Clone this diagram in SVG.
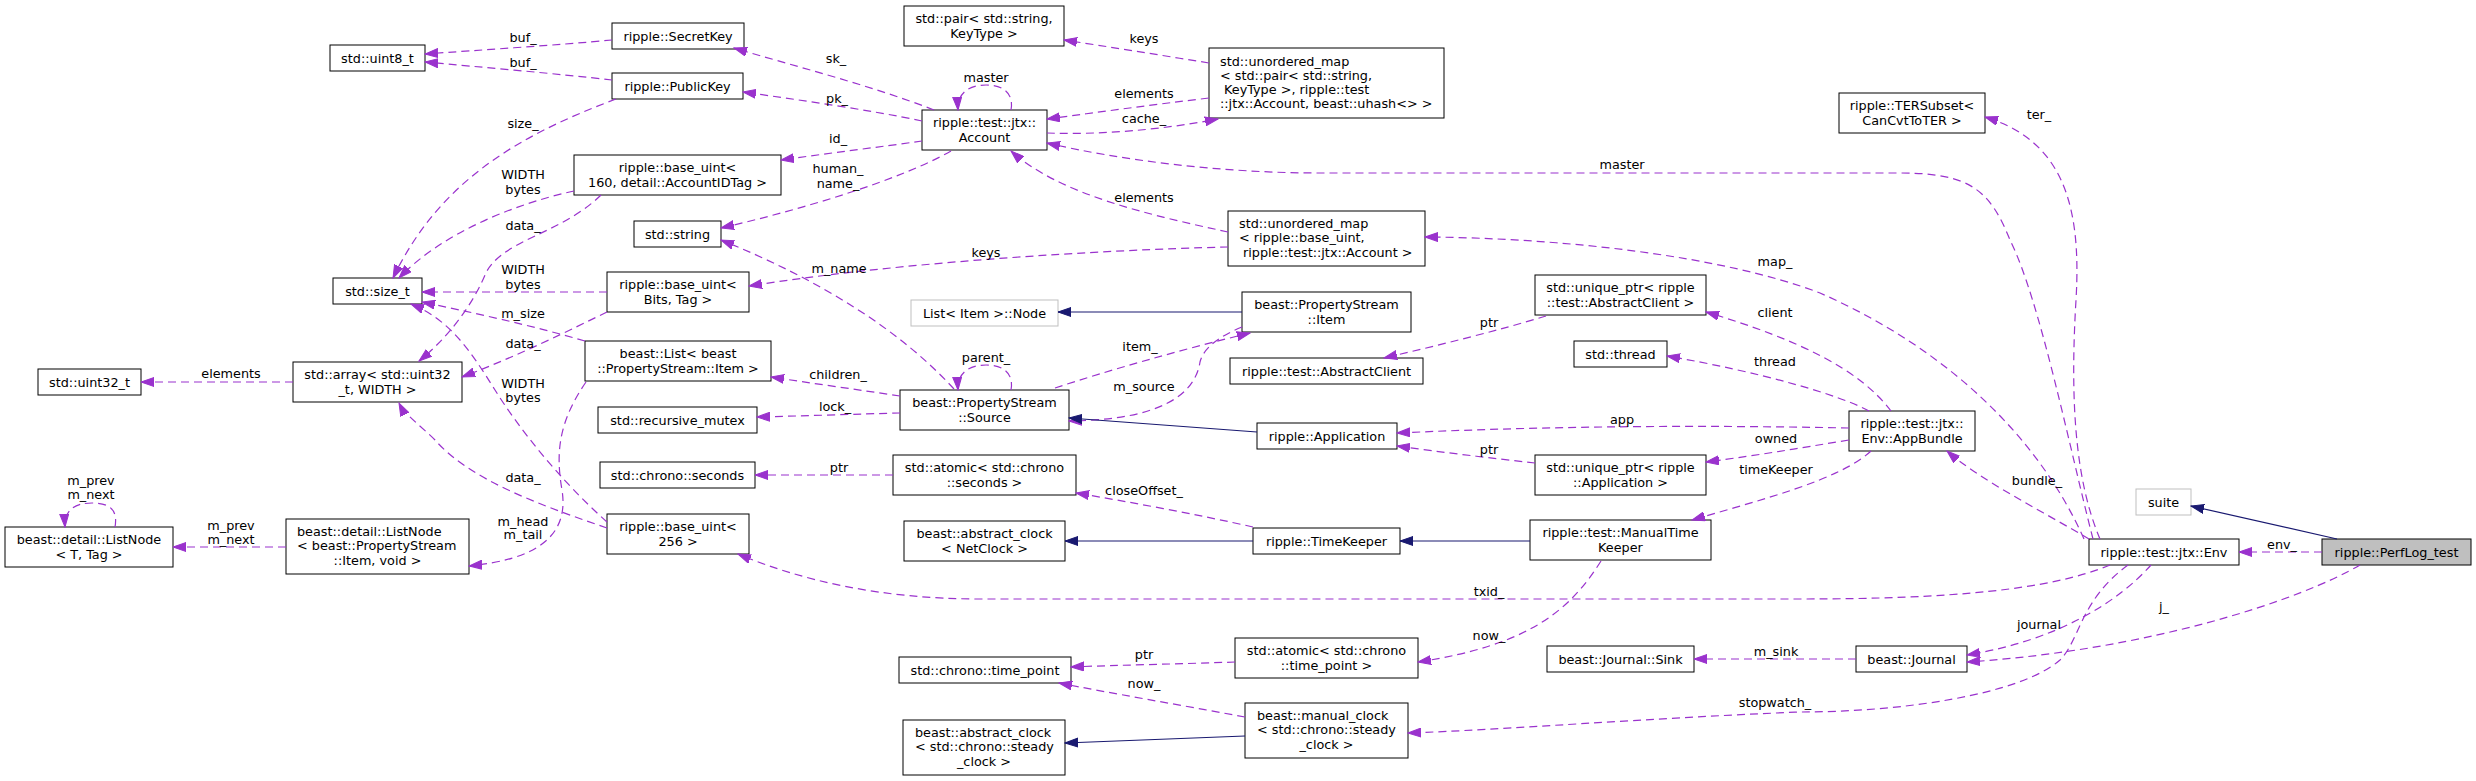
<svg xmlns="http://www.w3.org/2000/svg" width="2476" height="781" viewBox="0 0 2476 781">
<style>
.n rect{fill:#fff;stroke:#000;stroke-width:1}
.n.u rect{stroke:#bfbfbf}
.n.h rect{fill:#bfbfbf}
text{font-family:"DejaVu Sans","Liberation Sans",sans-serif;font-size:12.8px;fill:#000}
.n text{text-anchor:middle}
.n text.l{text-anchor:start}
.e path{fill:none;stroke:#9a32cd;stroke-width:1.2;stroke-dasharray:8,5;marker-end:url(#ap)}
.e path.i{stroke:#191970;stroke-dasharray:none;marker-end:url(#an)}
.e text{text-anchor:middle}
</style>
<defs>
<marker id="ap" markerUnits="userSpaceOnUse" markerWidth="14" markerHeight="10" refX="13" refY="5" orient="auto" viewBox="0 0 14 10"><path d="M0,0.5 L13,5 L0,9.5z" fill="#9a32cd" stroke="#9a32cd" stroke-width="1"/></marker>
<marker id="an" markerUnits="userSpaceOnUse" markerWidth="14" markerHeight="10" refX="13" refY="5" orient="auto" viewBox="0 0 14 10"><path d="M0,0.5 L13,5 L0,9.5z" fill="#191970" stroke="#191970" stroke-width="1"/></marker>
</defs>
<rect width="2476" height="781" fill="#fff"/>

<g id="nodes">
<g id="uint8" class="n"><rect x="330" y="45" width="95" height="26"/><text x="377.5" y="62.5">std::uint8_t</text></g>
<g id="secretkey" class="n"><rect x="612" y="23" width="132" height="26"/><text x="678" y="40.5">ripple::SecretKey</text></g>
<g id="publickey" class="n"><rect x="612" y="73" width="131" height="26"/><text x="677.5" y="90.5">ripple::PublicKey</text></g>
<g id="pair" class="n"><rect x="904" y="6" width="160" height="40"/><text x="984" y="22.5">std::pair&lt; std::string,</text><text x="984" y="37.5">KeyType &gt;</text></g>
<g id="umap1" class="n"><rect x="1209" y="48" width="235" height="70"/><text class="l" x="1220" y="65.5">std::unordered_map</text><text class="l" x="1220" y="79.5">&lt; std::pair&lt; std::string,</text><text class="l" x="1224" y="93.5">KeyType &gt;, ripple::test</text><text class="l" x="1220" y="108">::jtx::Account, beast::uhash&lt;&gt; &gt;</text></g>
<g id="account" class="n"><rect x="922" y="110" width="125" height="40"/><text x="984.5" y="126.5">ripple::test::jtx::</text><text x="984.5" y="141.5">Account</text></g>
<g id="baseuint160" class="n"><rect x="574" y="155" width="207" height="40"/><text x="677.5" y="171.5">ripple::base_uint&lt;</text><text x="677.5" y="186.5">160, detail::AccountIDTag &gt;</text></g>
<g id="string" class="n"><rect x="634" y="221" width="87" height="26"/><text x="677.5" y="238.5">std::string</text></g>
<g id="umap2" class="n"><rect x="1228" y="211" width="197" height="55"/><text class="l" x="1239" y="227.5">std::unordered_map</text><text class="l" x="1239" y="242">&lt; ripple::base_uint,</text><text class="l" x="1243" y="256.5">ripple::test::jtx::Account &gt;</text></g>
<g id="tersubset" class="n"><rect x="1839" y="93" width="146" height="40"/><text x="1912" y="109.5">ripple::TERSubset&lt;</text><text x="1912" y="124.5">CanCvtToTER &gt;</text></g>
<g id="sizet" class="n"><rect x="333" y="278" width="89" height="26"/><text x="377.5" y="295.5">std::size_t</text></g>
<g id="baseuintbits" class="n"><rect x="607" y="272" width="142" height="40"/><text x="678" y="288.5">ripple::base_uint&lt;</text><text x="678" y="303.5">Bits, Tag &gt;</text></g>
<g id="listitemnode" class="n u"><rect x="911" y="300" width="147" height="26"/><text x="984.5" y="317.5">List&lt; Item &gt;::Node</text></g>
<g id="beastlist" class="n"><rect x="585" y="341" width="186" height="40"/><text x="678" y="357.5">beast::List&lt; beast</text><text x="678" y="372.5">::PropertyStream::Item &gt;</text></g>
<g id="rmutex" class="n"><rect x="598" y="407" width="159" height="26"/><text x="677.5" y="424.5">std::recursive_mutex</text></g>
<g id="source" class="n"><rect x="900" y="390" width="169" height="40"/><text x="984.5" y="406.5">beast::PropertyStream</text><text x="984.5" y="421.5">::Source</text></g>
<g id="seconds" class="n"><rect x="600" y="462" width="155" height="26"/><text x="677.5" y="479.5">std::chrono::seconds</text></g>
<g id="atomicsec" class="n"><rect x="893" y="455" width="183" height="40"/><text x="984.5" y="471.5">std::atomic&lt; std::chrono</text><text x="984.5" y="486.5">::seconds &gt;</text></g>
<g id="baseuint256" class="n"><rect x="607" y="514" width="142" height="40"/><text x="678" y="530.5">ripple::base_uint&lt;</text><text x="678" y="545.5">256 &gt;</text></g>
<g id="absclocknet" class="n"><rect x="904" y="521" width="161" height="40"/><text x="984.5" y="537.5">beast::abstract_clock</text><text x="984.5" y="552.5">&lt; NetClock &gt;</text></g>
<g id="timepoint" class="n"><rect x="899" y="657" width="172" height="26"/><text x="985" y="674.5">std::chrono::time_point</text></g>
<g id="absclocksteady" class="n"><rect x="903" y="720" width="162" height="55"/><text class="l" x="915" y="736.5">beast::abstract_clock</text><text class="l" x="915" y="751">&lt; std::chrono::steady</text><text x="984" y="765.5">_clock &gt;</text></g>
<g id="item" class="n"><rect x="1242" y="292" width="169" height="40"/><text x="1326.5" y="308.5">beast::PropertyStream</text><text x="1326.5" y="323.5">::Item</text></g>
<g id="abstractclient" class="n"><rect x="1230" y="358" width="193" height="26"/><text x="1326.5" y="375.5">ripple::test::AbstractClient</text></g>
<g id="uptrclient" class="n"><rect x="1535" y="275" width="171" height="40"/><text x="1620.5" y="291.5">std::unique_ptr&lt; ripple</text><text x="1620.5" y="306.5">::test::AbstractClient &gt;</text></g>
<g id="thread" class="n"><rect x="1574" y="341" width="93" height="26"/><text x="1620.5" y="358.5">std::thread</text></g>
<g id="application" class="n"><rect x="1257" y="423" width="140" height="26"/><text x="1327" y="440.5">ripple::Application</text></g>
<g id="uptrapp" class="n"><rect x="1535" y="455" width="171" height="40"/><text x="1620.5" y="471.5">std::unique_ptr&lt; ripple</text><text x="1620.5" y="486.5">::Application &gt;</text></g>
<g id="timekeeper" class="n"><rect x="1253" y="528" width="147" height="26"/><text x="1326.5" y="545.5">ripple::TimeKeeper</text></g>
<g id="manualtk" class="n"><rect x="1530" y="520" width="181" height="40"/><text x="1620.5" y="536.5">ripple::test::ManualTime</text><text x="1620.5" y="551.5">Keeper</text></g>
<g id="atomictp" class="n"><rect x="1235" y="638" width="183" height="40"/><text x="1326.5" y="654.5">std::atomic&lt; std::chrono</text><text x="1326.5" y="669.5">::time_point &gt;</text></g>
<g id="sink" class="n"><rect x="1547" y="646" width="147" height="26"/><text x="1620.5" y="663.5">beast::Journal::Sink</text></g>
<g id="manualclock" class="n"><rect x="1245" y="703" width="163" height="55"/><text class="l" x="1257" y="719.5">beast::manual_clock</text><text class="l" x="1257" y="734">&lt; std::chrono::steady</text><text x="1326.5" y="748.5">_clock &gt;</text></g>
<g id="appbundle" class="n"><rect x="1849" y="411" width="126" height="40"/><text x="1912" y="427.5">ripple::test::jtx::</text><text x="1912" y="442.5">Env::AppBundle</text></g>
<g id="suite" class="n u"><rect x="2136" y="489" width="55" height="26"/><text x="2163.5" y="506.5">suite</text></g>
<g id="env" class="n"><rect x="2089" y="539" width="150" height="26"/><text x="2164" y="556.5">ripple::test::jtx::Env</text></g>
<g id="perflog" class="n h"><rect x="2322" y="539" width="149" height="26"/><text x="2396.5" y="556.5">ripple::PerfLog_test</text></g>
<g id="journal" class="n"><rect x="1856" y="646" width="111" height="26"/><text x="1911.5" y="663.5">beast::Journal</text></g>
<g id="uint32" class="n"><rect x="38" y="369" width="103" height="26"/><text x="89.5" y="386.5">std::uint32_t</text></g>
<g id="stdarray" class="n"><rect x="293" y="362" width="169" height="40"/><text x="377.5" y="378.5">std::array&lt; std::uint32</text><text x="377.5" y="393.5">_t, WIDTH &gt;</text></g>
<g id="listnodett" class="n"><rect x="5" y="527" width="168" height="40"/><text x="89" y="543.5">beast::detail::ListNode</text><text x="89" y="558.5">&lt; T, Tag &gt;</text></g>
<g id="listnodeitem" class="n"><rect x="286" y="519" width="183" height="55"/><text class="l" x="297" y="535.5">beast::detail::ListNode</text><text class="l" x="297" y="550">&lt; beast::PropertyStream</text><text x="377.5" y="564.5">::Item, void &gt;</text></g>
</g>

<g id="connectors" class="e">
<path d="M612,40 C560,45 480,50 425,54"/><text x="523" y="41.5">buf_</text>
<path d="M612,80 C560,74 480,67 425,62"/><text x="523" y="66.5">buf_</text>
<path d="M616,99 C520,135 440,180 393,278"/><text x="523" y="127.5">size_</text>
<path d="M574,191 C510,205 440,235 399,278"/><text x="523" y="178.5">WIDTH</text><text x="523" y="193.5">bytes</text>
<path d="M601,195 C560,235 500,240 485,275 C470,310 445,340 419,361"/><text x="523" y="229.5">data_</text>
<path d="M607,292 L422,292"/><text x="523" y="273.5">WIDTH</text><text x="523" y="288.5">bytes</text>
<path d="M607,312 C570,330 520,355 462,377"/><text x="523" y="347.5">data_</text>
<path d="M585,341 C530,325 470,312 422,302"/><text x="523" y="317.5">m_size</text>
<path d="M607,522 C560,480 520,430 495,390 C470,350 450,320 411,304"/><text x="523" y="387.5">WIDTH</text><text x="523" y="401.5">bytes</text>
<path d="M607,528 C540,505 470,480 435,440 C420,425 405,415 399,403"/><text x="523" y="481.5">data_</text>
<path d="M586,382 C560,420 555,450 562,490 C570,540 530,560 469,566"/><text x="523" y="525.5">m_head</text><text x="523" y="538.5">m_tail</text>
<path d="M293,382 L141,382"/><text x="231" y="377.5">elements</text>
<path d="M286,547 L173,547"/><text x="231" y="529.5">m_prev</text><text x="231" y="543.5">m_next</text>
<path d="M115,527 C118,510 110,503 92,503 C75,503 64,510 65,527"/><text x="91" y="484.5">m_prev</text><text x="91" y="498.5">m_next</text>
<path d="M934,110 C870,85 790,65 734,48"/><text x="836" y="62.5">sk_</text>
<path d="M922,121 C870,110 800,100 743,92"/><text x="837" y="102.5">pk_</text>
<path d="M922,141 C880,147 830,153 781,160"/><text x="838" y="142.5">id_</text>
<path d="M951,151 C900,180 800,210 721,228"/><text x="838" y="172.5">human_</text><text x="838" y="187.5">name_</text>
<path d="M1011,110 C1014,94 1004,85 986,85 C968,85 957,94 958,110"/><text x="986" y="81.5">master</text>
<path d="M1209,63 C1160,55 1110,47 1064,40"/><text x="1144" y="42.5">keys</text>
<path d="M1209,98 C1150,105 1100,112 1047,119"/><text x="1144" y="97.5">elements</text>
<path d="M1047,133 C1100,135 1160,130 1218,119"/><text x="1144" y="122.5">cache_</text>
<path d="M1228,232 C1150,215 1060,195 1011,151"/><text x="1144" y="201.5">elements</text>
<path d="M1228,247 C1100,250 900,262 749,286"/><text x="986" y="256.5">keys</text>
<path d="M954,389 C900,330 820,280 721,240"/><text x="839" y="272.5">m_name</text>
<path d="M1011,390 C1014,374 1004,365 986,365 C968,365 957,374 958,390"/><text x="986" y="361.5">parent_</text>
<path d="M900,396 C860,390 810,383 771,377"/><text x="838" y="378.5">children_</text>
<path d="M900,413 C860,414 800,416 757,417"/><text x="835" y="410.5">lock_</text>
<path d="M1055,388 C1110,370 1180,350 1250,333"/><text x="1140" y="350.5">item_</text>
<path d="M1242,327 C1215,338 1203,350 1200,362 C1195,395 1160,420 1069,421"/><text x="1144" y="390.5">m_source</text>
<path class="i" d="M1242,312 L1058,312"/>
<path class="i" d="M1257,432 L1069,418"/>
<path d="M893,475 L755,475"/><text x="839" y="471.5">ptr</text>
<path d="M1253,527 C1200,515 1130,502 1076,493"/><text x="1144" y="494.5">closeOffset_</text>
<path class="i" d="M1253,541 L1065,541"/>
<path class="i" d="M1530,541 L1400,541"/>
<path d="M1601,561 C1570,610 1530,645 1418,662"/><text x="1489" y="639.5">now_</text>
<path d="M1235,662 C1180,664 1120,665 1071,667"/><text x="1144" y="658.5">ptr</text>
<path d="M1245,717 C1180,705 1110,693 1059,683"/><text x="1144" y="687.5">now_</text>
<path class="i" d="M1245,736 L1065,743"/>
<path d="M1546,316 C1500,330 1440,345 1384,358"/><text x="1489" y="326.5">ptr</text>
<path d="M1535,463 C1490,458 1440,452 1397,446"/><text x="1489" y="453.5">ptr</text>
<path d="M1891,411 C1860,370 1800,340 1706,312"/><text x="1775" y="316.5">client</text>
<path d="M1869,411 C1840,395 1760,372 1667,356"/><text x="1775" y="365.5">thread</text>
<path d="M1849,428 C1700,425 1550,426 1397,433"/><text x="1622" y="423.5">app</text>
<path d="M1849,440 C1800,448 1760,455 1706,462"/><text x="1776" y="442.5">owned</text>
<path d="M1871,451 C1840,480 1760,500 1692,520"/><text x="1776" y="473.5">timeKeeper</text>
<path d="M2093,539 C2070,450 2040,300 2010,240 C1990,190 1970,173 1900,173 L1320,173 C1220,173 1120,160 1047,143"/><text x="1622" y="168.5">master</text>
<path d="M2084,539 C2040,440 1950,350 1820,293 C1720,255 1560,238 1425,237"/><text x="1775" y="265.5">map_</text>
<path d="M2100,539 C2075,480 2070,400 2076,300 C2082,200 2060,140 1985,117"/><text x="2039" y="118.5">ter_</text>
<path d="M2089,539 C2040,510 1980,480 1947,451"/><text x="2037" y="484.5">bundle_</text>
<path d="M2110,565 C2050,590 1950,599 1800,599 L980,599 C880,599 800,580 738,554"/><text x="1489" y="595.5">txid_</text>
<path d="M2151,565 C2120,600 2060,640 1967,655"/><text x="2039" y="628.5">journal</text>
<path d="M2128,565 C2080,600 2080,640 2060,660 C2020,695 1900,712 1800,712 C1650,718 1500,730 1408,733"/><text x="1775" y="706.5">stopwatch_</text>
<path d="M2322,552 L2239,552"/><text x="2282" y="548.5">env_</text>
<path d="M2360,565 C2300,600 2150,650 1967,662"/><text x="2164" y="610.5">j_</text>
<path class="i" d="M2337,539 L2191,506"/>
<path d="M1856,659 L1694,659"/><text x="1776" y="655.5">m_sink</text>
</g>
</svg>
